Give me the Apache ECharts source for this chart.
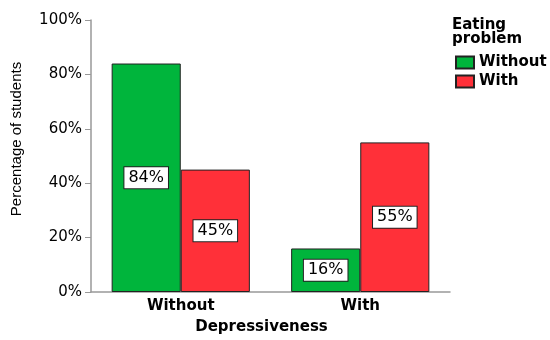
<!DOCTYPE html>
<html>
<head>
<meta charset="utf-8">
<title>Eating problem by depressiveness</title>
<script src="https://cdn.jsdelivr.net/npm/echarts@6/dist/echarts.min.js"></script>
<style>
  html, body { margin: 0; padding: 0; background: #fff; }
  #main { width: 550px; height: 340px; }
</style>
</head>
<body>
<div id="main"></div>
<script>
// data
var categories = ['Without', 'With'];
var seriesNames = ['Without', 'With'];
var withoutEating = [84, 16];
var withEating = [45, 55];
var yTicks = [0, 20, 40, 60, 80, 100];

var chart = echarts.init(document.getElementById('main'));

var labelBox = {
  show: true,
  position: 'inside',
  formatter: '{c}%',
  color: '#000',
  fontFamily: 'DejaVu Sans',
  fontSize: 16,
  backgroundColor: '#fff',
  borderColor: '#222',
  borderWidth: 1,
  padding: [3, 4, 2, 4]
};

var option = {
  animation: false,
  title: {
    text: 'Eating\nproblem',
    left: 452,
    top: 18,
    padding: 0,
    textStyle: {
      fontFamily: 'DejaVu Sans',
      fontWeight: 'bold',
      fontSize: 15,
      lineHeight: 14,
      color: '#000'
    }
  },
  legend: {
    orient: 'vertical',
    left: 455,
    top: 55,
    padding: 0,
    icon: 'rect',
    itemWidth: 18,
    itemHeight: 12,
    itemGap: 4,
    data: seriesNames,
    textStyle: {
      fontFamily: 'DejaVu Sans',
      fontWeight: 'bold',
      fontSize: 15,
      lineHeight: 12,
      color: '#000'
    }
  },
  grid: { left: 91, right: 100, top: 20, bottom: 48 },
  xAxis: {
    type: 'category',
    data: categories,
    axisLine: { lineStyle: { color: '#999', width: 1.5 } },
    axisTick: { show: false },
    axisLabel: {
      margin: 7,
      color: '#000',
      fontFamily: 'DejaVu Sans',
      fontWeight: 'bold',
      fontSize: 15
    },
    name: 'Depressiveness',
    nameLocation: 'middle',
    nameGap: 28,
    nameTextStyle: {
      color: '#000',
      fontFamily: 'DejaVu Sans',
      fontWeight: 'bold',
      fontSize: 15,
      padding: [0, 18, 0, 0]
    }
  },
  yAxis: {
    type: 'value',
    min: 0,
    max: 100,
    interval: 20,
    splitLine: { show: false },
    axisLine: { show: true, lineStyle: { color: '#999', width: 1.5 } },
    axisTick: { show: true, length: 6, lineStyle: { color: '#999' } },
    axisLabel: {
      margin: 9,
      color: '#000',
      fontFamily: 'DejaVu Sans',
      fontSize: 15,
      formatter: function (v) { return yTicks.indexOf(v) >= 0 ? v + '%' : ''; }
    },
    name: 'Percentage of students',
    nameLocation: 'middle',
    nameGap: 67,
    nameTextStyle: {
      color: '#000',
      fontFamily: 'Liberation Sans',
      fontSize: 15,
      padding: [0, 0, 0, 34]
    }
  },
  series: [
    {
      name: seriesNames[0],
      type: 'bar',
      data: withoutEating,
      barGap: 0,
      barCategoryGap: '23%',
      itemStyle: { color: '#00b53c', borderColor: '#222', borderWidth: 1 },
      label: labelBox
    },
    {
      name: seriesNames[1],
      type: 'bar',
      data: withEating,
      itemStyle: { color: '#ff3039', borderColor: '#222', borderWidth: 1 },
      label: labelBox
    }
  ]
};

chart.setOption(option);
</script>
</body>
</html>
